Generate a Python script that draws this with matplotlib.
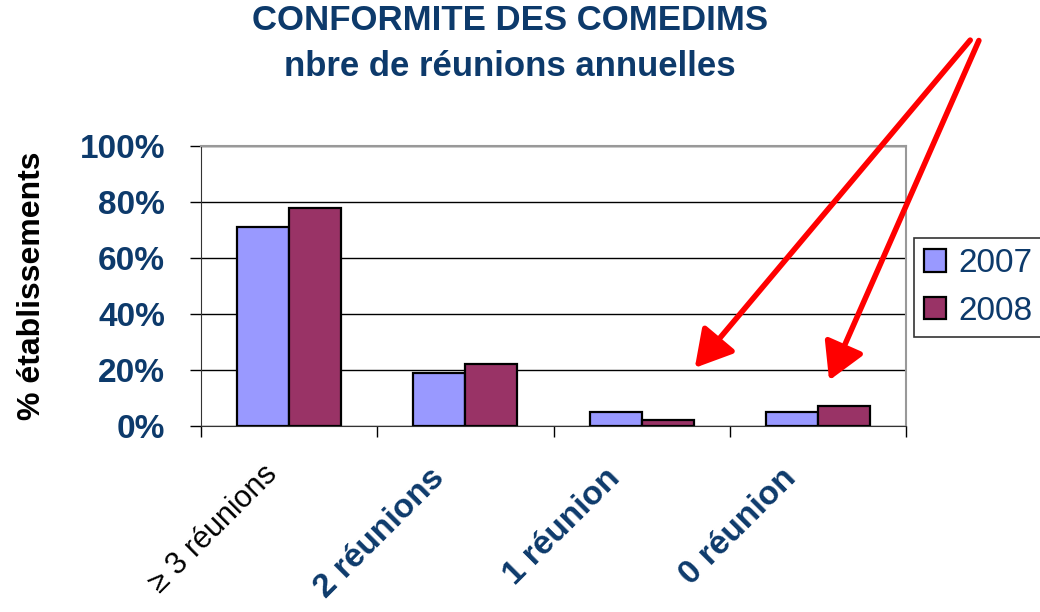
import matplotlib
matplotlib.use("Agg")
import matplotlib.pyplot as plt
import numpy as np
from matplotlib.ticker import FuncFormatter

categories = ["≥ 3 réunions", "2 réunions", "1 réunion", "0 réunion"]
series_names = ["2007", "2008"]
values_2007 = [71, 19, 5, 5]
values_2008 = [78, 22, 2, 7]
yticks = [0, 20, 40, 60, 80, 100]

plt.rcParams['font.family'] = ['Liberation Sans', 'DejaVu Sans']
navy = "#0d3a6b"

fig = plt.figure(figsize=(10.4, 6.12), dpi=100)
ax = fig.add_axes([201/1040, 1-426/612, 705/1040, 280/612])

x = np.arange(len(categories))
w = 0.295
ax.bar(x - w/2, values_2007, w, color="#9999ff", edgecolor="black", linewidth=1.6, label=series_names[0], zorder=3)
ax.bar(x + w/2, values_2008, w, color="#993366", edgecolor="black", linewidth=1.6, label=series_names[1], zorder=3)

ax.set_xlim(-0.5, len(categories) - 0.5)
ax.set_ylim(0, 100)
ax.set_yticks(yticks)
ax.yaxis.set_major_formatter(FuncFormatter(lambda v, p: f"{int(v)}%"))
for lab in ax.get_yticklabels():
    lab.set_fontsize(24)
    lab.set_fontweight("bold")
    lab.set_color(navy)
ax.tick_params(axis='y', direction='out', length=8, width=1, pad=18)
ax.grid(axis='y', color='black', linewidth=1, zorder=0)

ax.set_xticks(np.arange(len(categories) + 1) - 0.5)
ax.set_xticklabels([])
ax.tick_params(axis='x', direction='out', length=8, width=1)
for i, c in enumerate(categories):
    kw = dict(fontsize=24, color=navy, fontweight="bold")
    y0 = -13
    if i == 0:
        kw = dict(fontsize=22, color="black", fontweight="medium")
        y0 = -12
    ax.text(i - 0.15 if i == 0 else i - 0.21, y0, c, rotation=45, ha='right', va='top',
            rotation_mode='anchor', transform=ax.transData, **kw)

for s in ['top', 'right']:
    ax.spines[s].set_color('#999999')
    ax.spines[s].set_linewidth(1.5)
ax.spines['left'].set_color('#333333')
ax.spines['bottom'].set_color('#333333')

ax.set_ylabel("% établissements", fontsize=23, fontweight="bold", color="black")
ax.yaxis.set_label_coords(-(201-47)/705, 0.5)

fig.text(0.49, 1-21/612, "CONFORMITE DES COMEDIMS", ha='center', va='center',
         fontsize=25, fontweight='bold', color=navy)
fig.text(0.49, 1-67/612, "nbre de réunions annuelles", ha='center', va='center',
         fontsize=25, fontweight='bold', color=navy)

leg = fig.legend(loc='upper left', bbox_to_anchor=(914/1040, 1-238/612),
                 fontsize=24, frameon=True, fancybox=False, edgecolor='black',
                 handlelength=0.67, handleheight=0.67, handletextpad=0.35,
                 borderaxespad=0, labelspacing=0.5, borderpad=0.3)
leg.get_frame().set_linewidth(1.2)
for t in leg.get_texts():
    t.set_color(navy)

# red arrows
for (x0, y0, x1, y1) in [(972, 38, 693, 370), (980, 38, 828, 383)]:
    fig.patches.append(matplotlib.patches.FancyArrowPatch(
        (x0/1040, 1-y0/612), (x1/1040, 1-y1/612), transform=fig.transFigure,
        arrowstyle='-|>,head_length=14,head_width=8', color='#ff0000',
        linewidth=4, mutation_scale=1.6))

fig.savefig("out.png", dpi=100)
